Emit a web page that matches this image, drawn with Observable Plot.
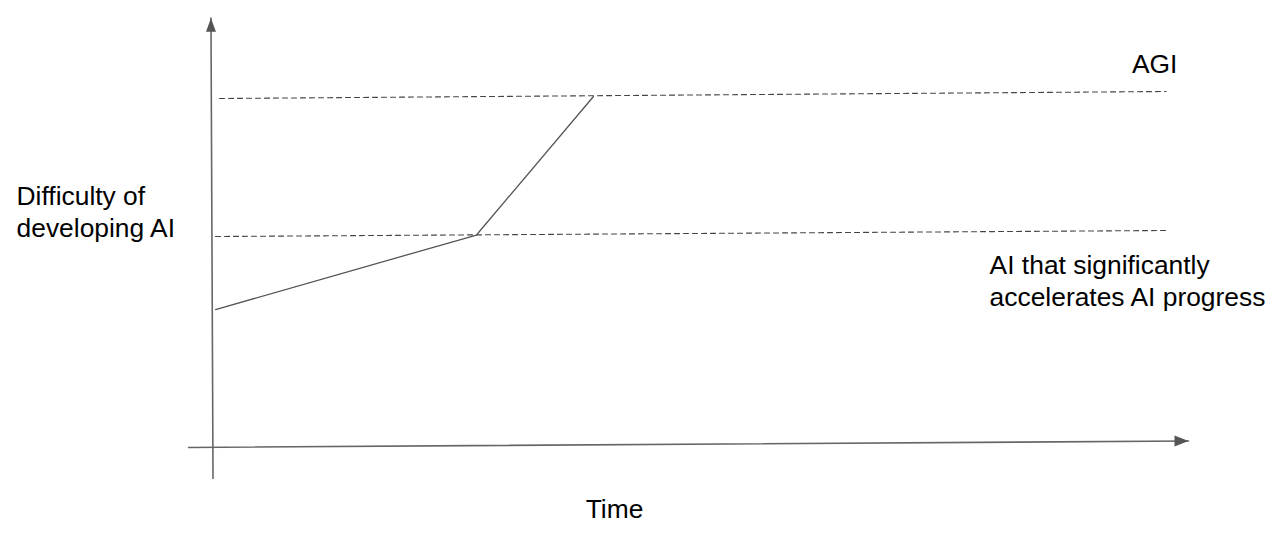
<!DOCTYPE html>
<html>
<head>
<meta charset="utf-8">
<script src="https://cdn.jsdelivr.net/npm/d3@7"></script>
<script src="https://cdn.jsdelivr.net/npm/@observablehq/plot@0.6"></script>
<style>
  html, body { margin: 0; padding: 0; background: #fff; }
  #chart svg { display: block; font-family: "Liberation Sans", Arial, sans-serif; }
</style>
</head>
<body>
<div id="chart"></div>
<script>
// ---- data (time units 0..100, difficulty units 0..100) ----
// the hand-drawn trajectory of AI capability
const pathTime = [0.21, 26.97, 38.97];
const pathDifficulty = [31.6, 49.06, 81.5];

// dashed threshold lines (slightly tilted, as drawn)
const thresholdNames = ["AI that significantly\naccelerates AI progress", "AGI"];
const thresholdStartTime = [0.21, 0.62];
const thresholdStartDifficulty = [48.71, 81.03];
const thresholdEndTime = [97.9, 97.7];
const thresholdEndDifficulty = [50.12, 82.67];
const thresholdLabelTime = [79.6, 94.2];
const thresholdLabelDifficulty = [32.5, 87.1];

// axes (hand-drawn, slightly tilted)
const timeAxisTime = [-2.56, 100];
const timeAxisDifficulty = [-0.70, 0.82];
const difficultyAxisTime = [-0.05, -0.26];
const difficultyAxisDifficulty = [-7.96, 99.85];

// axis titles
const yTitle = "Difficulty of\ndeveloping AI";
const yTitleTime = -20.2;
const yTitleDifficulty = 48.6;
const xTitle = "Time";
const xTitleTime = 41.13;
const xTitleDifficulty = -17.2;

// ---- build tables ----
const pathData = pathTime.map((t, i) => ({t, d: pathDifficulty[i]}));
const thresholdData = thresholdNames.flatMap((name, i) => [
  {name, t: thresholdStartTime[i], d: thresholdStartDifficulty[i]},
  {name, t: thresholdEndTime[i], d: thresholdEndDifficulty[i]}
]);
const thresholdLabels = thresholdNames.map((name, i) => ({name, t: thresholdLabelTime[i], d: thresholdLabelDifficulty[i]}));
const timeAxis = timeAxisTime.map((t, i) => ({t, d: timeAxisDifficulty[i]}));
const diffAxis = difficultyAxisTime.map((t, i) => ({t, d: difficultyAxisDifficulty[i]}));

// arrowhead symbols with tip at the origin
const arrowUp = {draw(ctx) { ctx.moveTo(0, 0); ctx.lineTo(5, 13.5); ctx.lineTo(-5, 13.5); ctx.closePath(); }};
const arrowRight = {draw(ctx) { ctx.moveTo(0, 0); ctx.lineTo(-14, 5.5); ctx.lineTo(-14, -5.5); ctx.closePath(); }};

const font = "Liberation Sans, Arial, sans-serif";
const textStyle = {fontSize: 26.4, lineHeight: 1.2, lineAnchor: "bottom", fill: "#000", fontFamily: font};

const chart = Plot.plot({
  width: 1278,
  height: 534,
  marginLeft: 213,
  marginRight: 90,
  marginTop: 17,
  marginBottom: 90,
  style: {fontFamily: font, background: "#fff"},
  x: {domain: [0, 100], axis: null},
  y: {domain: [0, 100], axis: null},
  marks: [
    // axes
    Plot.line(timeAxis, {x: "t", y: "d", stroke: "#666", strokeWidth: 1.6}),
    Plot.line(diffAxis, {x: "t", y: "d", stroke: "#666", strokeWidth: 1.6}),
    Plot.dot(timeAxis.slice(-1), {x: "t", y: "d", symbol: arrowRight, fill: "#555", stroke: null, r: 6}),
    Plot.dot(diffAxis.slice(-1), {x: "t", y: "d", symbol: arrowUp, fill: "#555", stroke: null, r: 6}),
    // thresholds
    Plot.line(thresholdData, {x: "t", y: "d", z: "name", stroke: "#444", strokeWidth: 1.1, strokeDasharray: "5,4"}),
    // trajectory
    Plot.line(pathData, {x: "t", y: "d", stroke: "#555", strokeWidth: 1.3}),
    // labels
    Plot.text(thresholdLabels, {x: "t", y: "d", text: "name", textAnchor: "start", ...textStyle}),
    Plot.text([yTitle], {x: () => yTitleTime, y: () => yTitleDifficulty, text: d => d, textAnchor: "start", ...textStyle}),
    Plot.text([xTitle], {x: () => xTitleTime, y: () => xTitleDifficulty, text: d => d, textAnchor: "middle", ...textStyle})
  ]
});
document.getElementById("chart").appendChild(chart);
</script>
</body>
</html>
